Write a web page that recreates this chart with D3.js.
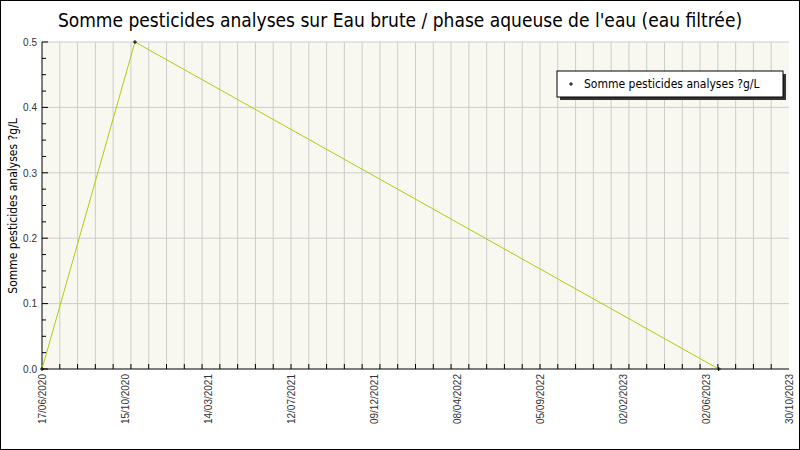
<!DOCTYPE html><html><head><meta charset="utf-8"><script src="https://cdn.jsdelivr.net/npm/d3@7"></script>
<style>body{margin:0}svg{font-family:"DejaVu Sans Condensed","DejaVu Sans",sans-serif}</style></head><body>
<svg id="c" width="800" height="450"></svg>
<script>
const dates=["2020-06-17","2020-11-02","2023-06-25"];
const values=[0,0.5,0];
const yTicks=[0,0.1,0.2,0.3,0.4,0.5];
const xTickLabels=["17/06/2020","15/10/2020","14/03/2021","12/07/2021","09/12/2021","08/04/2022","05/09/2022","02/02/2023","02/06/2023","30/10/2023"];
const seriesName="Somme pesticides analyses ?g/L";
const title="Somme pesticides analyses sur Eau brute / phase aqueuse de l'eau (eau filtrée)";
const svg=d3.select("#c");
const L=42,R=789,T=42,B=369;
const pd=d3.utcParse("%Y-%m-%d"),pl=d3.utcParse("%d/%m/%Y");
const n=xTickLabels.length;
const x=d3.scaleUtc().domain(xTickLabels.map(pl)).range(xTickLabels.map((_,i)=>L+(R-L)*i/(n-1)));
const y=d3.scaleLinear().domain([0,0.5]).range([B,T]);
svg.append("rect").attr("x",0.5).attr("y",0.5).attr("width",799).attr("height",449).attr("fill","#fff").attr("stroke","#000");
svg.append("text").attr("x",400).attr("y",27).attr("text-anchor","middle").attr("font-size",19).text(title);
svg.append("rect").attr("x",L).attr("y",T).attr("width",R-L).attr("height",B-T).attr("fill","#f8f8f0");
const nG=42;
for(let i=1;i<nG;i++){const gx=L+(R-L)*i/nG;svg.append("line").attr("x1",gx).attr("x2",gx).attr("y1",T).attr("y2",B).attr("stroke","#ccc");
svg.append("line").attr("x1",gx).attr("x2",gx).attr("y1",B).attr("y2",B-5).attr("stroke","#000");}
yTicks.slice(1).forEach(v=>svg.append("line").attr("x1",L).attr("x2",R).attr("y1",y(v)).attr("y2",y(v)).attr("stroke","#ccc"));
const ya=svg.append("g").attr("transform",`translate(${L},0)`).call(d3.axisLeft(y).tickValues(yTicks).tickFormat(d3.format(".1f")).tickSize(0));
ya.select(".domain").remove();ya.selectAll("text").attr("font-size",10).attr("fill","#333").attr("dx",-2);
d3.range(0,0.501,0.025).forEach(v=>svg.append("line").attr("x1",L).attr("x2",L+(Math.round(v*1000)%100==0?6:4)).attr("y1",y(v)).attr("y2",y(v)).attr("stroke","#000"));
svg.append("line").attr("x1",L).attr("x2",L).attr("y1",T).attr("y2",B).attr("stroke","#000");
svg.append("line").attr("x1",L).attr("x2",R).attr("y1",B).attr("y2",B).attr("stroke","#000");
const xa=svg.append("g").attr("transform",`translate(0,${B})`).call(d3.axisBottom(x).tickValues(xTickLabels.map(pl)).tickFormat((d,i)=>xTickLabels[i]).tickSize(0));
xa.select(".domain").remove();
xa.selectAll("text").attr("font-size",10).attr("fill","#333").attr("transform","rotate(-90)").attr("text-anchor","end").attr("dy","0.32em").attr("y",0).attr("x",-5);
svg.append("text").attr("transform","translate(17,206) rotate(-90)").attr("text-anchor","middle").attr("font-size",12).text(seriesName);
const pts=dates.map((d,i)=>[x(pd(d)),y(values[i])]);
svg.append("path").attr("d",d3.line()(pts)).attr("fill","none").attr("stroke","#a8d010").attr("stroke-width",1);
pts.forEach(p=>svg.append("path").attr("d",`M${p[0]-2},${p[1]}h4M${p[0]},${p[1]-2}v4`).attr("stroke","#000"));
svg.append("rect").attr("x",560).attr("y",74).attr("width",226).attr("height",26).attr("fill","#333");
svg.append("rect").attr("x",557).attr("y",71).attr("width",226).attr("height",26).attr("fill","#fff").attr("stroke","#000");
svg.append("path").attr("d","M569,84h4M571,82v4").attr("stroke","#000");
svg.append("text").attr("x",584).attr("y",88).attr("font-size",12).text(seriesName);
</script></body></html>
